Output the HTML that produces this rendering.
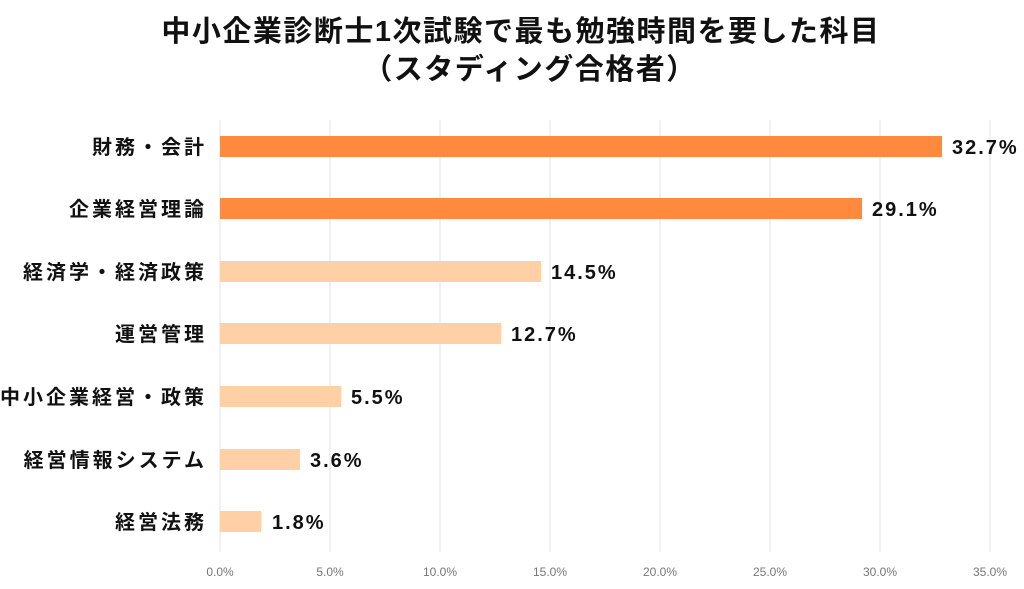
<!DOCTYPE html><html><head><meta charset="utf-8"><style>
body{margin:0;width:1024px;height:584px;background:#fff;overflow:hidden}
svg text{font-family:"Liberation Sans","Noto Sans CJK JP",sans-serif}
</style></head><body>
<svg width="1024" height="584" xmlns="http://www.w3.org/2000/svg">
<text x="521" y="41" text-anchor="middle" font-size="29" font-weight="bold" fill="#111" letter-spacing="1.5">中小企業診断士1次試験で最も勉強時間を要した科目</text>
<text x="530" y="79" text-anchor="middle" font-size="29" font-weight="bold" fill="#111" letter-spacing="1.5">（スタディング合格者）</text>
<g stroke="#e0e0e0" stroke-width="1">
<line x1="220" y1="120" x2="220" y2="552"/><line x1="330" y1="120" x2="330" y2="552"/><line x1="440" y1="120" x2="440" y2="552"/><line x1="550" y1="120" x2="550" y2="552"/><line x1="660" y1="120" x2="660" y2="552"/><line x1="770" y1="120" x2="770" y2="552"/><line x1="880" y1="120" x2="880" y2="552"/><line x1="990" y1="120" x2="990" y2="552"/>
</g>
<g font-size="12" fill="#777" text-anchor="middle">
<text x="220" y="576">0.0%</text><text x="330" y="576">5.0%</text><text x="440" y="576">10.0%</text><text x="550" y="576">15.0%</text><text x="660" y="576">20.0%</text><text x="770" y="576">25.0%</text><text x="880" y="576">30.0%</text><text x="990" y="576">35.0%</text>
</g>
<g>
<rect x="220" y="136" width="722" height="21" fill="#ff8a3d"/>
<rect x="220" y="198" width="642" height="21" fill="#ff8a3d"/>
<rect x="220" y="261" width="321" height="21" fill="#ffcfa6"/>
<rect x="220" y="323" width="281" height="21" fill="#ffcfa6"/>
<rect x="220" y="386" width="121" height="21" fill="#ffcfa6"/>
<rect x="220" y="449" width="80" height="21" fill="#ffcfa6"/>
<rect x="220" y="511" width="41" height="21" fill="#ffcfa6"/>
</g>
<g font-size="20" font-weight="bold" fill="#111" letter-spacing="2">
<text x="952" y="154">32.7%</text><text x="872" y="216">29.1%</text><text x="551" y="279">14.5%</text><text x="511" y="341">12.7%</text><text x="351" y="404">5.5%</text><text x="310" y="467">3.6%</text><text x="272" y="529">1.8%</text>
</g>
<g font-size="20" font-weight="bold" fill="#111" text-anchor="end" letter-spacing="3">
<text x="207" y="154">財務・会計</text><text x="207" y="216">企業経営理論</text><text x="207" y="279">経済学・経済政策</text><text x="207" y="341">運営管理</text><text x="207" y="404">中小企業経営・政策</text><text x="207" y="467">経営情報システム</text><text x="207" y="529">経営法務</text>
</g>
</svg></body></html>
